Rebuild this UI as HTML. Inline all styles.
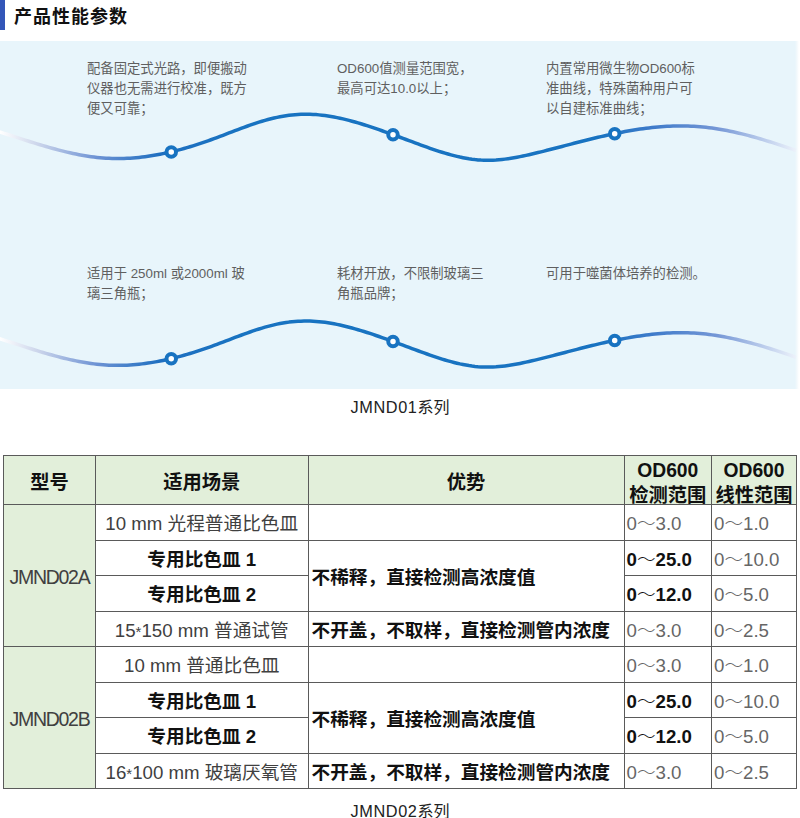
<!DOCTYPE html>
<html lang="zh-CN">
<head>
<meta charset="utf-8">
<title>产品性能参数</title>
<style>
html,body{margin:0;padding:0;background:#fff;}
body{width:800px;height:818px;position:relative;overflow:hidden;font-family:"Liberation Sans","Noto Sans CJK SC",sans-serif;}
.bar{position:absolute;left:0;top:0;width:4.5px;height:30px;background:#3356b8;}
.title{position:absolute;left:14px;top:3px;font-size:18px;line-height:28px;font-weight:bold;color:#111;letter-spacing:1px;}
.panel{position:absolute;left:0;top:41px;width:799px;height:347.5px;background:linear-gradient(to right,#e8f5fb 795px,#f3f9fc 797px,#fff 799px);}
.panel svg{position:absolute;left:0;top:0;}
.txt{position:absolute;font-size:13.33px;line-height:20px;color:#5f5f5f;font-weight:400;font-family:"Liberation Sans","Noto Sans CJK SC",sans-serif;white-space:nowrap;}
.cap{position:absolute;left:0;width:800px;text-align:center;font-size:16px;color:#222;line-height:20px;}
.cap b{font-weight:normal;font-size:16.3px;letter-spacing:0.6px;}
table{position:absolute;left:3px;top:455px;border-collapse:collapse;table-layout:fixed;width:794px;font-size:18.67px;}
td,th{border:1px solid #5a5a5a;padding:0;}
th{background:#e2efda;font-weight:bold;color:#111;font-size:19.3px;}
th .hc{height:48px;line-height:25px;position:relative;top:2.5px;display:flex;align-items:center;justify-content:center;text-align:center;}
td{color:#404040;white-space:nowrap;padding-bottom:2px;}
td.g{background:#e2efda;text-align:center;letter-spacing:-1.3px;padding-top:6px;font-size:19.5px;}
td.c{text-align:center;}
td.l{padding-left:3px;}
td.b{font-weight:bold;color:#111;}
td.n{padding-left:2px;color:#666;}
.t{font-weight:300;}
.ast{font-size:15px;position:relative;top:0px;}
td.nb{padding-left:2px;font-weight:bold;color:#111;}
</style>
</head>
<body>
<div class="bar"></div>
<div class="title">产品性能参数</div>

<div class="panel">
<svg width="797" height="347" viewBox="0 41 797 347">
<defs>
<linearGradient id="lg" x1="0" y1="0" x2="797" y2="0" gradientUnits="userSpaceOnUse">
<stop offset="0" stop-color="#ffffff"/>
<stop offset="0.05" stop-color="#c9d3ea"/>
<stop offset="0.12" stop-color="#6e93d4"/>
<stop offset="0.2" stop-color="#1f6fc0"/>
<stop offset="0.3" stop-color="#1873c1"/>
<stop offset="0.75" stop-color="#1873c1"/>
<stop offset="0.82" stop-color="#3f7bca"/>
<stop offset="0.9" stop-color="#7597d6"/>
<stop offset="1" stop-color="#eef3fb"/>
</linearGradient>
<g id="wave">
<path fill="none" stroke="url(#lg)" stroke-width="3.5" stroke-linejoin="round" d="M-2.0 131.38 L1.0 132.34 L4.0 133.30 L7.0 134.27 L10.0 135.24 L13.0 136.21 L16.0 137.18 L19.0 138.15 L22.0 139.12 L25.0 140.08 L28.0 141.04 L31.0 141.98 L34.0 142.92 L37.0 143.85 L40.0 144.76 L43.0 145.66 L46.0 146.54 L49.0 147.40 L52.0 148.24 L55.0 149.06 L58.0 149.86 L61.0 150.64 L64.0 151.39 L67.0 152.11 L70.0 152.80 L73.0 153.46 L76.0 154.08 L79.0 154.68 L82.0 155.23 L85.0 155.75 L88.0 156.23 L91.0 156.67 L94.0 157.07 L97.0 157.42 L100.0 157.73 L103.0 157.99 L106.0 158.20 L109.0 158.37 L112.0 158.48 L115.0 158.54 L118.0 158.56 L121.0 158.53 L124.0 158.45 L127.0 158.33 L130.0 158.17 L133.0 157.96 L136.0 157.71 L139.0 157.41 L142.0 157.08 L145.0 156.70 L148.0 156.29 L151.0 155.83 L154.0 155.34 L157.0 154.81 L160.0 154.25 L163.0 153.64 L166.0 153.01 L169.0 152.33 L172.0 151.63 L175.0 150.89 L178.0 150.12 L181.0 149.32 L184.0 148.48 L187.0 147.62 L190.0 146.73 L193.0 145.81 L196.0 144.86 L199.0 143.89 L202.0 142.89 L205.0 141.87 L208.0 140.82 L211.0 139.74 L214.0 138.65 L217.0 137.54 L220.0 136.41 L223.0 135.27 L226.0 134.13 L229.0 132.98 L232.0 131.84 L235.0 130.69 L238.0 129.56 L241.0 128.44 L244.0 127.34 L247.0 126.26 L250.0 125.20 L253.0 124.16 L256.0 123.16 L259.0 122.20 L262.0 121.27 L265.0 120.39 L268.0 119.55 L271.0 118.77 L274.0 118.04 L277.0 117.36 L280.0 116.75 L283.0 116.21 L286.0 115.73 L289.0 115.31 L292.0 114.96 L295.0 114.68 L298.0 114.47 L301.0 114.33 L304.0 114.25 L307.0 114.24 L310.0 114.29 L313.0 114.42 L316.0 114.61 L319.0 114.87 L322.0 115.18 L325.0 115.56 L328.0 115.99 L331.0 116.47 L334.0 117.01 L337.0 117.60 L340.0 118.23 L343.0 118.91 L346.0 119.63 L349.0 120.39 L352.0 121.19 L355.0 122.03 L358.0 122.90 L361.0 123.80 L364.0 124.72 L367.0 125.68 L370.0 126.65 L373.0 127.65 L376.0 128.67 L379.0 129.70 L382.0 130.75 L385.0 131.81 L388.0 132.88 L391.0 133.97 L394.0 135.06 L397.0 136.16 L400.0 137.26 L403.0 138.37 L406.0 139.49 L409.0 140.60 L412.0 141.72 L415.0 142.84 L418.0 143.95 L421.0 145.05 L424.0 146.14 L427.0 147.22 L430.0 148.28 L433.0 149.31 L436.0 150.32 L439.0 151.30 L442.0 152.25 L445.0 153.17 L448.0 154.04 L451.0 154.87 L454.0 155.66 L457.0 156.39 L460.0 157.08 L463.0 157.70 L466.0 158.27 L469.0 158.78 L472.0 159.22 L475.0 159.59 L478.0 159.89 L481.0 160.11 L484.0 160.25 L487.0 160.31 L490.0 160.29 L493.0 160.19 L496.0 160.03 L499.0 159.79 L502.0 159.49 L505.0 159.13 L508.0 158.72 L511.0 158.26 L514.0 157.75 L517.0 157.20 L520.0 156.61 L523.0 155.99 L526.0 155.35 L529.0 154.68 L532.0 153.99 L535.0 153.28 L538.0 152.56 L541.0 151.83 L544.0 151.08 L547.0 150.32 L550.0 149.56 L553.0 148.79 L556.0 148.01 L559.0 147.23 L562.0 146.44 L565.0 145.65 L568.0 144.87 L571.0 144.08 L574.0 143.30 L577.0 142.53 L580.0 141.76 L583.0 141.00 L586.0 140.24 L589.0 139.50 L592.0 138.76 L595.0 138.04 L598.0 137.32 L601.0 136.62 L604.0 135.94 L607.0 135.27 L610.0 134.61 L613.0 133.97 L616.0 133.35 L619.0 132.74 L622.0 132.16 L625.0 131.59 L628.0 131.05 L631.0 130.52 L634.0 130.03 L637.0 129.55 L640.0 129.10 L643.0 128.67 L646.0 128.28 L649.0 127.90 L652.0 127.56 L655.0 127.25 L658.0 126.97 L661.0 126.72 L664.0 126.50 L667.0 126.31 L670.0 126.16 L673.0 126.04 L676.0 125.96 L679.0 125.92 L682.0 125.91 L685.0 125.94 L688.0 126.01 L691.0 126.13 L694.0 126.28 L697.0 126.48 L700.0 126.72 L703.0 126.99 L706.0 127.31 L709.0 127.67 L712.0 128.07 L715.0 128.50 L718.0 128.97 L721.0 129.48 L724.0 130.02 L727.0 130.59 L730.0 131.19 L733.0 131.82 L736.0 132.49 L739.0 133.18 L742.0 133.90 L745.0 134.65 L748.0 135.42 L751.0 136.22 L754.0 137.04 L757.0 137.89 L760.0 138.75 L763.0 139.64 L766.0 140.55 L769.0 141.47 L772.0 142.42 L775.0 143.38 L778.0 144.35 L781.0 145.34 L784.0 146.35 L787.0 147.36 L790.0 148.39 L793.0 149.43 L796.0 150.48"/>
<circle cx="171.25" cy="151.9" r="4.75" fill="#fff" stroke="#1873c1" stroke-width="4"/>
<circle cx="393" cy="134.75" r="4.75" fill="#fff" stroke="#1873c1" stroke-width="4"/>
<circle cx="614.7" cy="133.7" r="4.75" fill="#fff" stroke="#1873c1" stroke-width="4"/>
</g>
</defs>
<use href="#wave"/>
<use href="#wave" y="206.8"/>
</svg>
</div>

<div class="txt" style="left:87px;top:59px;">配备固定式光路，即便搬动<br>仪器也无需进行校准，既方<br>便又可靠；</div>
<div class="txt" style="left:337px;top:59px;">OD600值测量范围宽，<br>最高可达10.0以上；</div>
<div class="txt" style="left:546px;top:59px;">内置常用微生物OD600标<br>准曲线，特殊菌种用户可<br>以自建标准曲线；</div>
<div class="txt" style="left:87px;top:264px;">适用于 250ml 或2000ml 玻<br>璃三角瓶；</div>
<div class="txt" style="left:337px;top:264px;">耗材开放，不限制玻璃三<br>角瓶品牌；</div>
<div class="txt" style="left:546px;top:264px;">可用于噬菌体培养的检测。</div>

<div class="cap" style="top:397px;"><b>JMND01</b>系列</div>

<table>
<colgroup><col style="width:92px"><col style="width:212.5px"><col style="width:316px"><col style="width:87.5px"><col style="width:85px"></colgroup>
<tr style="height:49px"><th><div class="hc"><span>型号</span></div></th><th><div class="hc"><span>适用场景</span></div></th><th><div class="hc"><span>优势</span></div></th><th><div class="hc"><span>OD600<br>检测范围</span></div></th><th><div class="hc"><span>OD600<br>线性范围</span></div></th></tr>
<tr style="height:36px"><td class="g" rowspan="4">JMND02A</td><td class="c">10 mm 光程普通比色皿</td><td></td><td class="n">0<span class="t">～</span>3.0</td><td class="n">0<span class="t">～</span>1.0</td></tr>
<tr style="height:35px"><td class="c b">专用比色皿 1</td><td class="l b" rowspan="2">不稀释，直接检测高浓度值</td><td class="nb">0<span class="t">～</span>25.0</td><td class="n">0<span class="t">～</span>10.0</td></tr>
<tr style="height:36px"><td class="c b">专用比色皿 2</td><td class="nb">0<span class="t">～</span>12.0</td><td class="n">0<span class="t">～</span>5.0</td></tr>
<tr style="height:35px"><td class="c">15<span class="ast">*</span>150 mm 普通试管</td><td class="l b">不开盖，不取样，直接检测管内浓度</td><td class="n">0<span class="t">～</span>3.0</td><td class="n">0<span class="t">～</span>2.5</td></tr>
<tr style="height:36px"><td class="g" rowspan="4">JMND02B</td><td class="c">10 mm 普通比色皿</td><td></td><td class="n">0<span class="t">～</span>3.0</td><td class="n">0<span class="t">～</span>1.0</td></tr>
<tr style="height:35px"><td class="c b">专用比色皿 1</td><td class="l b" rowspan="2">不稀释，直接检测高浓度值</td><td class="nb">0<span class="t">～</span>25.0</td><td class="n">0<span class="t">～</span>10.0</td></tr>
<tr style="height:36px"><td class="c b">专用比色皿 2</td><td class="nb">0<span class="t">～</span>12.0</td><td class="n">0<span class="t">～</span>5.0</td></tr>
<tr style="height:35px"><td class="c">16<span class="ast">*</span>100 mm 玻璃厌氧管</td><td class="l b">不开盖，不取样，直接检测管内浓度</td><td class="n">0<span class="t">～</span>3.0</td><td class="n">0<span class="t">～</span>2.5</td></tr>
</table>

<div class="cap" style="top:801px;"><b>JMND02</b>系列</div>
</body>
</html>
